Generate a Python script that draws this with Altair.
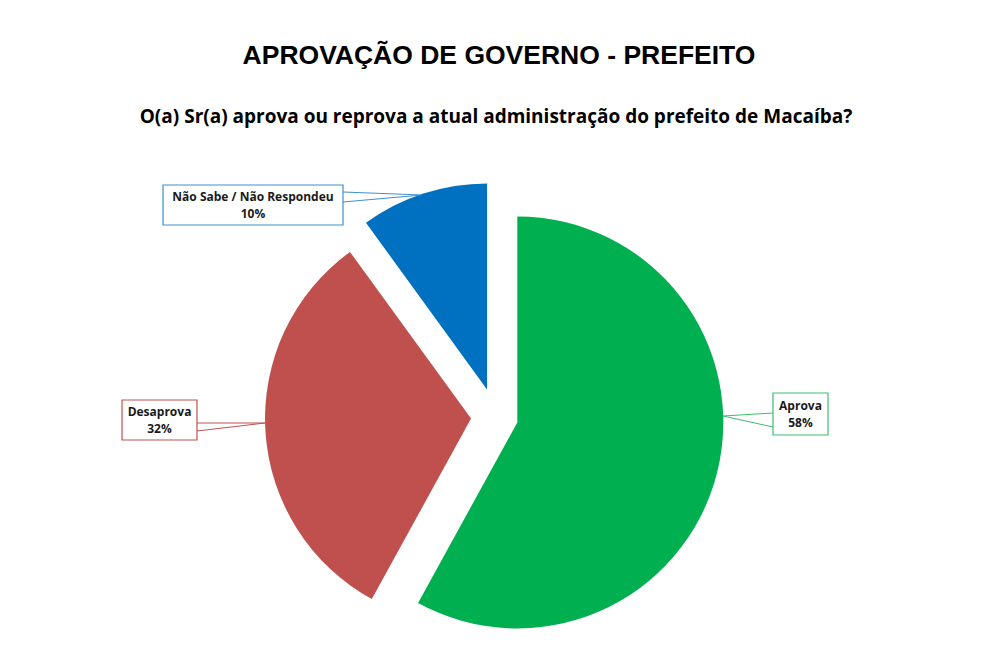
import math
import altair as alt
import pandas as pd

# ---------------- data ----------------
categories = ["Aprova", "Desaprova", "Não Sabe / Não Respondeu"]
values = [58, 32, 10]
pct_labels = ["58%", "32%", "10%"]
title_text = "APROVAÇÃO DE GOVERNO - PREFEITO"
subtitle_text = "O(a) Sr(a) aprova ou reprova a atual administração do prefeito de Macaíba?"

# ---------------- style / layout (page pixels) ----------------
colors = ["#00B050", "#C0504D", "#0070C0"]
box_strokes = ["#3DBE6E", "#C0504D", "#3F8FCB"]
M = 8                      # page margin
W, H = 978, 645
CX, CY = 496, 417          # pie center
R = 206                    # pie radius
EXPLODE = [22, 25, 29]     # explosion distance per slice

# label boxes: (x1, y1, x2, y2), wedge base points, wedge tip
LABEL_LAYOUT = [
    {"box": (773, 393, 828, 435), "base": [(773, 413), (773, 427)], "tip": (723, 416)},
    {"box": (122, 400, 197, 440), "base": [(197, 423), (197, 431)], "tip": (265, 423)},
    {"box": (163, 185, 343, 225), "base": [(343, 192), (343, 202)], "tip": (422, 195)},
]

# ---------------- derived tables ----------------
total = sum(values)
rows = []
cum = 0.0
for cat, v, d in zip(categories, values, EXPLODE):
    t0 = cum / total * 2 * math.pi
    cum += v
    t1 = cum / total * 2 * math.pi
    mid = (t0 + t1) / 2
    rows.append({
        "cat": cat, "value": v, "t0": t0, "t1": t1,
        "cx": CX + d * math.sin(mid) - M,
        "cy": CY - d * math.cos(mid) - M,
    })
arc_df = pd.DataFrame(rows)

box_rows, wedge_rows, text_rows = [], [], []
for cat, pct, lay, stroke in zip(categories, pct_labels, LABEL_LAYOUT, box_strokes):
    x1, y1, x2, y2 = lay["box"]
    box_rows.append({"cat": cat, "x1": x1 - M, "y1": y1 - M, "x2": x2 - M, "y2": y2 - M, "stroke": stroke})
    tx, ty = lay["tip"]
    for i, (bx, by) in enumerate(lay["base"]):
        wedge_rows.append({"cat": cat, "seg": f"{cat}-{i}", "x1": bx - M, "y1": by - M,
                           "x2": tx - M, "y2": ty - M, "stroke": stroke})
    xc = (x1 + x2) / 2 - M
    yc = (y1 + y2) / 2 - M
    text_rows.append({"t": cat, "x": xc, "y": yc - 8.5})
    text_rows.append({"t": pct, "x": xc, "y": yc + 8.5})
box_df = pd.DataFrame(box_rows)
wedge_df = pd.DataFrame(wedge_rows)
text_df = pd.DataFrame(text_rows)
title_df = pd.DataFrame([{"t": title_text, "x": 499 - M, "y": 64 - M}])
subtitle_df = pd.DataFrame([{"t": subtitle_text, "x": 496 - M, "y": 123 - M}])

X = lambda f: alt.X(f, type="quantitative", scale=None, axis=None)
Y = lambda f: alt.Y(f, type="quantitative", scale=None, axis=None)

arcs = alt.Chart(arc_df).mark_arc(radius=R, strokeWidth=0).encode(
    x=X("cx"), y=Y("cy"),
    theta=alt.Theta("t0:Q", scale=None, stack=None),
    theta2="t1:Q",
    color=alt.Color("cat:N", scale=alt.Scale(domain=categories, range=colors), legend=None),
)

wedges = alt.Chart(wedge_df).mark_rule(strokeWidth=1).encode(
    x=X("x1"), y=Y("y1"), x2="x2:Q", y2="y2:Q",
    color=alt.Color("stroke:N", scale=None),
    detail="seg:N",
)

boxes = alt.Chart(box_df).mark_rect(fill="white", strokeWidth=1.2).encode(
    x=X("x1"), y=Y("y1"), x2="x2:Q", y2="y2:Q",
    stroke=alt.Stroke("stroke:N", scale=None),
)

labels = alt.Chart(text_df).mark_text(
    font="Open Sans", fontWeight="bold", fontSize=12, color="#1a1a1a", baseline="middle", align="center"
).encode(x=X("x"), y=Y("y"), text="t:N")

title = alt.Chart(title_df).mark_text(
    font="Liberation Sans", fontWeight="bold", fontSize=26.5, color="#000000", baseline="alphabetic", align="center"
).encode(x=X("x"), y=Y("y"), text="t:N")

subtitle = alt.Chart(subtitle_df).mark_text(
    font="Open Sans", fontWeight="bold", fontSize=19, color="#000000", baseline="alphabetic", align="center"
).encode(x=X("x"), y=Y("y"), text="t:N")

chart = alt.layer(arcs, wedges, boxes, labels, title, subtitle).properties(
    width=W, height=H, padding=0, autosize=alt.AutoSizeParams(type="none"),
    background="white",
).configure_view(stroke=None)

chart.save("out.html", embed_options={"renderer": "svg", "actions": False})
